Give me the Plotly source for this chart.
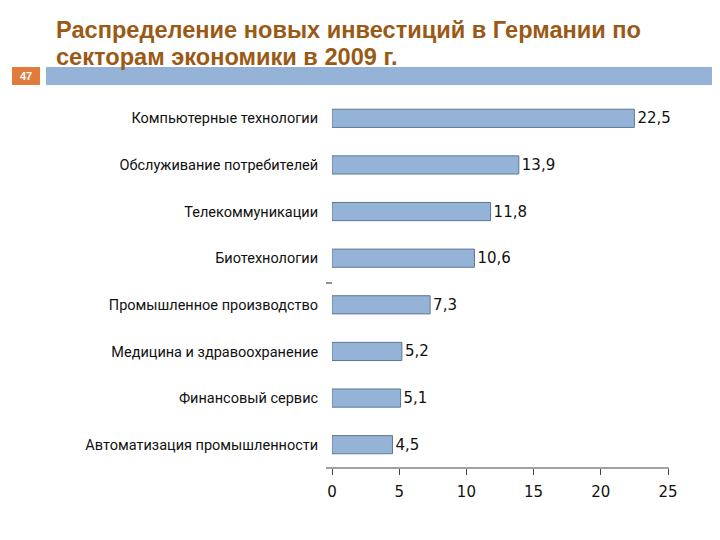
import plotly.graph_objects as go

# данные (сверху вниз как на слайде)
sectors = [
    "Компьютерные технологии",
    "Обслуживание потребителей",
    "Телекоммуникации",
    "Биотехнологии",
    "Промышленное производство",
    "Медицина и здравоохранение",
    "Финансовый сервис",
    "Автоматизация промышленности",
]
shares = [22.5, 13.9, 11.8, 10.6, 7.3, 5.2, 5.1, 4.5]
x_ticks = [0, 5, 10, 15, 20, 25]

TITLE_1 = "Распределение новых инвестиций в Германии по"
TITLE_2 = "секторам экономики в 2009 г."
SLIDE_NO = "47"

BAR_FILL = "#95B3D7"
BAR_EDGE = "#5E7794"
TITLE_COLOR = "#9A5A16"
ACCENT = "#E07B3C"
TXT = "#111111"
BODY_FONT = "Roboto, Lato, sans-serif"
NUM_FONT = "DejaVu Sans, Verdana, sans-serif"  # широкие цифры, как на слайде

OFF = 8  # страница рисуется с отступом body 8px
W, H = 720 - OFF, 540 - OFF
L, R, T, B = 332 - OFF, W - (668 - OFF), 95 - OFF, H - (468 - OFF)
PW, PH = W - L - R, H - T - B


def px(x):  # пиксели слайда -> paper x
    return (x - OFF - L) / PW


def py(y):  # пиксели слайда -> paper y
    return (H - B - (y - OFF)) / PH


fig = go.Figure(go.Bar(
    x=shares, y=sectors, orientation="h",
    marker=dict(color=BAR_FILL, line=dict(color=BAR_EDGE, width=1)),
    text=shares, texttemplate="%{x:.1f}", textposition="outside",
    textfont=dict(family=NUM_FONT, size=15, color=TXT),
    cliponaxis=False, hoverinfo="skip",
))

fig.update_layout(
    width=W, height=H, separators=", ",
    paper_bgcolor="white", plot_bgcolor="white",
    margin=dict(l=L, r=R, t=T, b=B, autoexpand=False),
    showlegend=False, bargap=0.61,
    font=dict(family=BODY_FONT, color=TXT),
)
fig.update_xaxes(
    range=[0, 25], tickvals=x_ticks, showgrid=False, zeroline=False,
    showline=False, ticks="outside", ticklen=6, tickcolor="#444444",
    ticklabelstandoff=4, tickfont=dict(family=NUM_FONT, size=15, color=TXT),
)
fig.update_yaxes(
    categoryorder="array", categoryarray=sectors[::-1],
    showgrid=False, showline=False, zeroline=False,
    ticks="outside", ticklen=10, tickcolor="rgba(0,0,0,0)",
    tickfont=dict(size=14.5, color=TXT),
)

# ось X чуть длиннее области построения, как на слайде
fig.add_shape(type="line", xref="paper", yref="paper",
              x0=px(326), x1=px(669), y0=0, y1=0,
              line=dict(color="#444444", width=1))
# случайный штрих на слайде
fig.add_shape(type="line", xref="paper", yref="paper",
              x0=px(326), x1=px(332), y0=py(283), y1=py(283),
              line=dict(color="#222222", width=1))

# шапка слайда
fig.add_shape(type="rect", xref="paper", yref="paper",
              x0=px(12), x1=px(40), y0=py(85), y1=py(67),
              fillcolor=ACCENT, line_width=0, layer="below")
fig.add_shape(type="rect", xref="paper", yref="paper",
              x0=px(46), x1=px(720), y0=py(85), y1=py(67),
              fillcolor=BAR_FILL, line_width=0, layer="below")
fig.add_annotation(text=SLIDE_NO, xref="paper", yref="paper",
                   x=px(26), y=py(76), xanchor="center", yanchor="middle",
                   showarrow=False,
                   font=dict(family="Liberation Sans, Arial", size=11, color="white",
                             weight="bold"))
for line, y in ((TITLE_1, 30), (TITLE_2, 57)):
    fig.add_annotation(text=line, xref="paper", yref="paper",
                       x=px(54), y=py(y), xanchor="left", yanchor="middle",
                       showarrow=False,
                       font=dict(family="Liberation Sans, Arial", size=23.6,
                                 color=TITLE_COLOR, weight="bold"))

fig.write_html("out.html")
